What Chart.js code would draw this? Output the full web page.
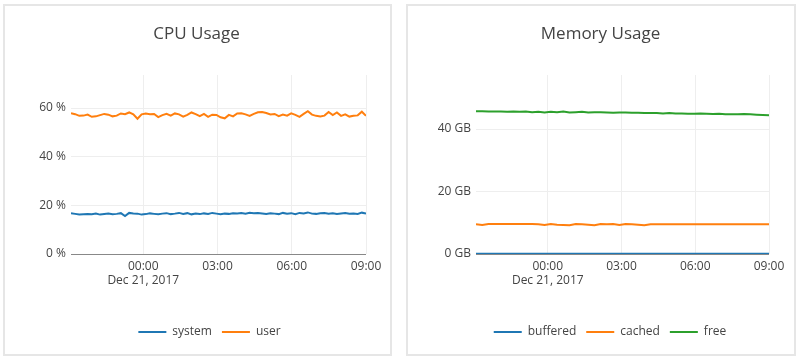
<!DOCTYPE html>
<html>
<head>
<meta charset="utf-8">
<title>Usage</title>
<script src="https://cdn.jsdelivr.net/npm/chart.js@4.4.1/dist/chart.umd.min.js"></script>
<style>
  body { margin: 0; background: #fff; width: 800px; height: 359px; position: relative; overflow: hidden; }
  .panel { position: absolute; top: 4px; height: 352px; border: 2px solid #e6e6e6; box-sizing: border-box; }
  .wrap { position: absolute; top: 0; width: 398px; height: 359px; }
</style>
</head>
<body>
<div class="panel" style="left:3px; width:389px"></div>
<div class="panel" style="left:406px; width:390px"></div>
<div class="wrap" style="left:0"><canvas id="cpuChart"></canvas></div>
<div class="wrap" style="left:400px"><canvas id="memChart"></canvas></div>

<script>
/* time range, hours relative to Dec 21 00:00 */
const startHour = -2.92;
const endHour = 9;

const xTickHours = [0, 3, 6, 9];
const xTickLabels = [['00:00', 'Dec 21, 2017'], '03:00', '06:00', '09:00'];

/* CPU Usage, % */
const cpuSystem = [
  16.8, 16.5, 16.2, 16.3, 16.4, 16.3, 16.6, 16.2, 16.4, 16.6, 16.3, 16.5,
  16.8, 15.6, 16.9, 16.7, 16.6, 16.2, 16.4, 16.7, 16.5, 16.3, 16.6, 16.8,
  16.4, 16.6, 16.9, 16.5, 16.8, 16.3, 16.6, 16.4, 16.7, 16.5, 16.9, 16.6,
  16.3, 16.6, 16.5, 16.8, 16.7, 16.9, 16.6, 17.0, 16.8, 16.9, 16.7, 16.5,
  16.8, 16.6, 16.4, 16.9, 16.6, 16.8, 16.4, 16.9, 16.7, 17.1, 16.6, 16.5,
  16.8, 16.9, 16.6, 16.8, 16.5, 16.7, 16.9, 16.6, 16.7, 16.5, 17.0, 16.6
];
const cpuUser = [
  57.9, 57.5, 56.8, 56.9, 57.3, 56.4, 56.6, 57.1, 57.6, 57.3, 56.6, 56.9,
  57.8, 57.5, 58.2, 57.4, 55.6, 57.4, 57.8, 57.5, 57.6, 56.3, 57.1, 57.6,
  56.9, 57.8, 57.4, 56.5, 57.2, 58.2, 57.5, 56.7, 57.6, 56.4, 57.3, 57.2,
  56.2, 55.8, 57.2, 56.6, 57.8, 57.9, 57.4, 56.8, 57.6, 58.3, 58.4, 58.0,
  57.4, 57.6, 56.7, 57.3, 56.9, 57.8, 57.2, 56.4, 57.6, 58.7, 57.3, 56.8,
  56.5, 56.9, 58.4, 57.1, 58.2, 56.8, 57.4, 56.5, 56.8, 57.0, 58.5, 56.8
];
const cpuTicks = [0, 20, 40, 60];

/* Memory Usage, GB */
const memBuffered = [
  0.1, 0.1, 0.1, 0.1, 0.1, 0.1, 0.1, 0.1, 0.1, 0.1, 0.1, 0.1,
  0.1, 0.1, 0.1, 0.1, 0.1, 0.1, 0.1, 0.1, 0.1, 0.1, 0.1, 0.1,
  0.1, 0.1, 0.1, 0.1, 0.1, 0.1, 0.1, 0.1, 0.1, 0.1, 0.1, 0.1,
  0.1, 0.1, 0.1, 0.1, 0.1, 0.1, 0.1, 0.1, 0.1, 0.1, 0.1, 0.1
];
const memCached = [
  9.5, 9.3, 9.6, 9.6, 9.6, 9.6, 9.6, 9.6, 9.6, 9.6, 9.5, 9.3,
  9.6, 9.4, 9.3, 9.2, 9.6, 9.5, 9.4, 9.2, 9.6, 9.5, 9.6, 9.3,
  9.6, 9.5, 9.4, 9.2, 9.5, 9.5, 9.5, 9.5, 9.5, 9.5, 9.5, 9.5,
  9.5, 9.5, 9.5, 9.5, 9.5, 9.5, 9.5, 9.5, 9.5, 9.5, 9.5, 9.5
];
const memFree = [
  45.7, 45.7, 45.6, 45.6, 45.6, 45.5, 45.6, 45.5, 45.6, 45.4, 45.5, 45.3,
  45.5, 45.4, 45.6, 45.3, 45.4, 45.5, 45.3, 45.4, 45.4, 45.3, 45.2, 45.3,
  45.3, 45.2, 45.2, 45.1, 45.1, 45.1, 45.0, 45.1, 45.0, 45.0, 44.9, 44.9,
  45.0, 44.9, 44.8, 44.9, 44.7, 44.7, 44.7, 44.8, 44.7, 44.6, 44.5, 44.4
];
const memTicks = [0, 20, 40];

const BLUE = '#1f77b4', ORANGE = '#ff7f0e', GREEN = '#2ca02c';

Chart.defaults.font.family = '"Open Sans", verdana, arial, sans-serif';
Chart.defaults.color = '#444';

// evenly sampled series -> {x, y} points
function toPoints(values) {
  const step = (endHour - startHour) / (values.length - 1);
  return values.map((v, i) => ({ x: startHour + i * step, y: v }));
}

function line(label, values, color) {
  return {
    label: label,
    data: toPoints(values),
    borderColor: color,
    backgroundColor: color,
    borderWidth: 2,
    pointRadius: 0,
    tension: 0,
  };
}

// moves the legend sideways after layout
const legendShift = {
  id: 'legendShift',
  afterLayout(chart, args, opts) {
    if (chart.legend && opts.dx) {
      chart.legend.left += opts.dx;
      chart.legend.right += opts.dx;
    }
  }
};

function makeOptions(title, yTicks, yMax, unit, padLeft, padRight, yWidth, legendDx) {
  return {
    responsive: true,
    maintainAspectRatio: false,
    animation: false,
    layout: { padding: { left: padLeft, right: padRight, top: 0, bottom: 11 } },
    plugins: {
      title: {
        display: true,
        text: title,
        color: '#444',
        font: { size: 17, weight: 'normal' },
        padding: { top: 24, bottom: 30.6 }
      },
      legend: {
        position: 'bottom',
        fullSize: false,
        labels: {
          usePointStyle: true,
          pointStyle: 'line',
          pointStyleWidth: 28,
          font: { size: 12 },
          color: '#444',
          padding: 10
        }
      },
      legendShift: { dx: legendDx },
      tooltip: { enabled: false }
    },
    scales: {
      x: {
        type: 'linear',
        min: startHour,
        max: endHour,
        afterBuildTicks: (axis) => { axis.ticks = xTickHours.map(v => ({ value: v })); },
        afterFit: (axis) => { axis.height = 62; },
        ticks: {
          padding: 5,
          maxRotation: 0,
          autoSkip: false,
          font: { size: 12 },
          color: '#444',
          callback: (v) => {
            const i = xTickHours.indexOf(v);
            return i >= 0 ? xTickLabels[i] : '';
          }
        },
        grid: { color: '#eee', drawTicks: false },
        border: { display: false }
      },
      y: {
        min: 0,
        max: yMax,
        afterBuildTicks: (axis) => { axis.ticks = yTicks.map(v => ({ value: v })); },
        afterFit: (axis) => { axis.width = yWidth; },
        ticks: {
          padding: 5,
          font: { size: 12 },
          color: '#444',
          callback: (v) => v + ' ' + unit
        },
        grid: {
          color: (ctx) => (ctx.tick && ctx.tick.value === 0 ? '#888' : '#eee'),
          drawTicks: false
        },
        border: { display: false }
      }
    }
  };
}

const cpuChart = new Chart(document.getElementById('cpuChart'), {
  type: 'line',
  data: {
    datasets: [
      line('system', cpuSystem, BLUE),
      line('user', cpuUser, ORANGE)
    ]
  },
  options: makeOptions('CPU Usage', cpuTicks, 73.6, '%', 27, 32, 44, -9),
  plugins: [legendShift]
});

const memChart = new Chart(document.getElementById('memChart'), {
  type: 'line',
  data: {
    datasets: [
      line('buffered', memBuffered, BLUE),
      line('cached', memCached, ORANGE),
      line('free', memFree, GREEN)
    ]
  },
  options: makeOptions('Memory Usage', memTicks, 57.3, 'GB', 32, 29, 44, -12.5),
  plugins: [legendShift]
});
</script>
</body>
</html>
